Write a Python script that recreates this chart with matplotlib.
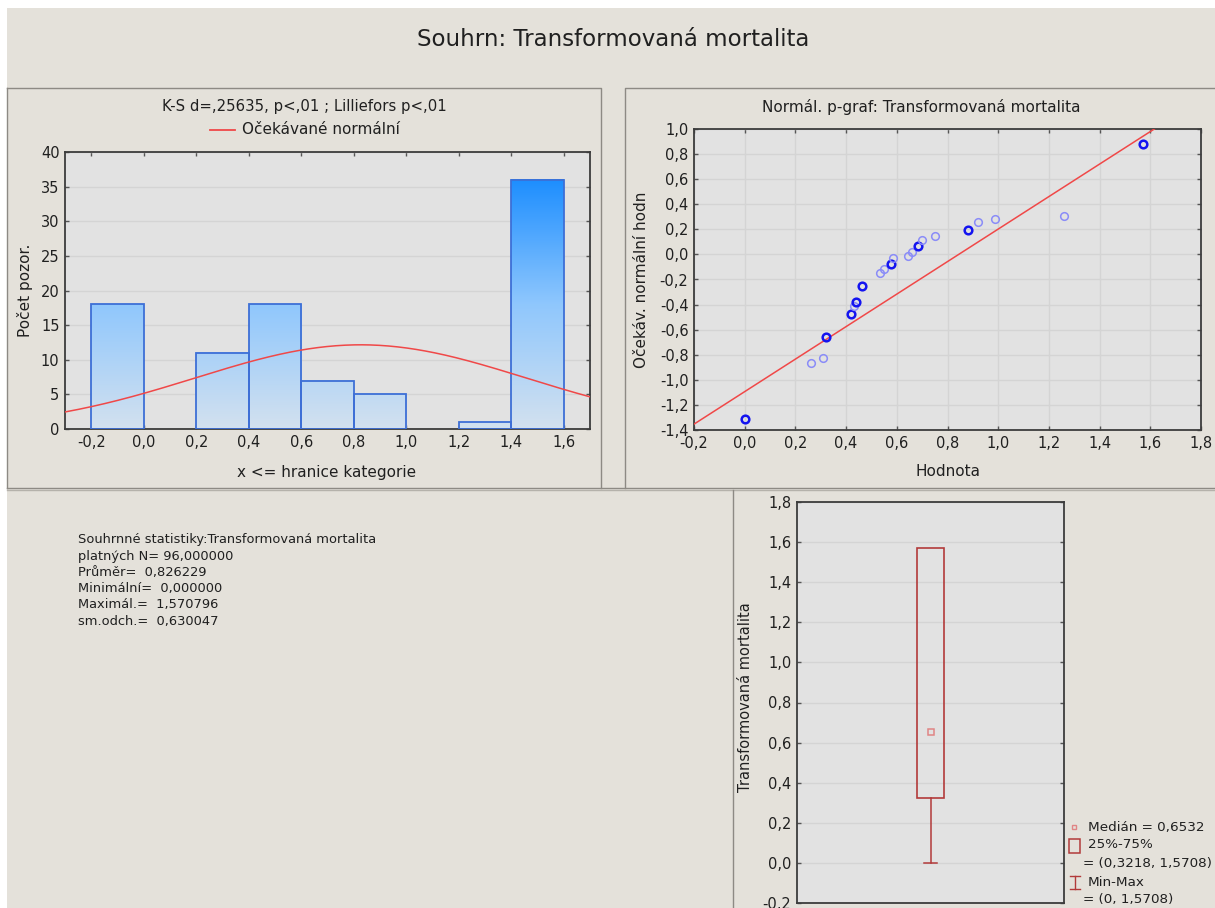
import numpy as np
import matplotlib
matplotlib.use('Agg')
import matplotlib.pyplot as plt
from matplotlib.colors import LinearSegmentedColormap
from matplotlib.patches import Rectangle
from matplotlib.ticker import FuncFormatter, MultipleLocator

plt.rcParams['font.family'] = ['DejaVu Sans']

# ---------------- data ----------------
main_title = "Souhrn: Transformovaná mortalita"
hist_title = "K-S d=,25635, p<,01 ; Lilliefors p<,01"
hist_legend = "Očekávané normální"
hist_xlabel = "x <= hranice kategorie"
hist_ylabel = "Počet pozor."
bin_left_edges = [-0.2, 0.0, 0.2, 0.4, 0.6, 0.8, 1.0, 1.2, 1.4]
bin_counts = [18, 0, 11, 18, 7, 5, 0, 1, 36]
bin_width = 0.2

n_valid = 96
mean_val = 0.826229
min_val = 0.0
max_val = 1.570796
sd_val = 0.630047

pp_title = "Normál. p-graf: Transformovaná mortalita"
pp_xlabel = "Hodnota"
pp_ylabel = "Očekáv. normální hodn"
pp_values = [0.0, 0.261, 0.307, 0.322, 0.420, 0.431, 0.440, 0.463, 0.533, 0.549,
             0.576, 0.586, 0.643, 0.658, 0.682, 0.699, 0.749, 0.882, 0.919, 0.987,
             1.259, 1.571]
pp_expected = [-1.315, -0.867, -0.827, -0.659, -0.477, -0.413, -0.376, -0.251, -0.147, -0.117,
               -0.080, -0.032, -0.013, 0.016, 0.067, 0.117, 0.149, 0.197, 0.256, 0.280,
               0.307, 0.880]
pp_tied = [True, False, False, True, True, False, True, True, False, False,
           True, False, False, False, True, False, False, True, False, False,
           False, True]
pp_line_intercept = -1.094
pp_line_slope = 1.296

box_ylabel = "Transformovaná mortalita"
median_val = 0.6532
q25 = 0.3218
q75 = 1.5708

stats_lines = ["Souhrnné statistiky:Transformovaná mortalita",
               "platných N= 96,000000",
               "Průměr=  0,826229",
               "Minimální=  0,000000",
               "Maximál.=  1,570796",
               "sm.odch.=  0,630047"]

# ---------------- layout helpers ----------------
W, H = 1215, 908
fig = plt.figure(figsize=(W / 100, H / 100), dpi=100)
fig.patch.set_facecolor('white')


def rect(l, t, r, b):
    return [l / W, 1 - b / H, (r - l) / W, (b - t) / H]


BEIGE = '#e4e1da'
AXFACE = '#e2e2e2'
GRID = '#d4d4d4'
SPINE = '#3c3c3c'
TXT = '#202020'
FS = 10.5


def comma_fmt(v, pos):
    s = f"{v:.1f}".replace('.', ',')
    if s == '-0,0':
        s = '0,0'
    return s


def style_axes(ax):
    ax.set_facecolor(AXFACE)
    for sp in ax.spines.values():
        sp.set_color(SPINE)
        sp.set_linewidth(1.3)
    ax.tick_params(direction='in', length=3, width=1, color='#555555',
                   labelsize=FS, labelcolor=TXT, top=True, right=True, pad=4)


# background overlay in pixel coordinates
bg = fig.add_axes([0, 0, 1, 1], zorder=-10)
bg.set_xlim(0, W)
bg.set_ylim(H, 0)
bg.axis('off')
bg.add_patch(Rectangle((7, 8), W - 7, H - 8, facecolor=BEIGE, edgecolor='none'))
line_kw = dict(color='#8d8a84', lw=1.0)
bg.plot([7, 601, 601], [88, 88, 488], **line_kw)
bg.plot([625, 625, 1215], [488, 88, 88], **line_kw)
bg.plot([7, 7], [88, 488], **line_kw)
bg.plot([7, 1215], [488, 488], **line_kw)
bg.plot([7, 1215], [490, 490], color='#b5b2ab', lw=1.0)
bg.plot([733, 733], [490, 908], **line_kw)

bg.text(613, 40, main_title, ha='center', va='center', fontsize=16.5, color=TXT)

# ---------------- histogram ----------------
ax1 = fig.add_axes(rect(65, 152, 590, 429))
style_axes(ax1)
cmap = LinearSegmentedColormap.from_list('bl', ['#d3e1ef', '#8fc7fd', '#1d8eff'])
vmax = max(bin_counts)
for x0, c in zip(bin_left_edges, bin_counts):
    if c <= 0:
        continue
    grad = np.linspace(0, c, 256).reshape(-1, 1)
    ax1.imshow(grad, extent=(x0, x0 + bin_width, 0, c), origin='lower', cmap=cmap,
               vmin=0, vmax=vmax, aspect='auto', zorder=2, interpolation='bilinear')
    ax1.add_patch(Rectangle((x0, 0), bin_width, c, fill=False, edgecolor='#3d6fd6',
                            lw=1.3, zorder=3))
xs = np.linspace(-0.3, 1.7, 400)
ys = n_valid * bin_width * np.exp(-0.5 * ((xs - mean_val) / sd_val) ** 2) / (sd_val * np.sqrt(2 * np.pi))
ax1.plot(xs, ys, color='#f04848', lw=1.1, zorder=4)
ax1.set_xlim(-0.3, 1.7)
ax1.set_ylim(0, 40)
ax1.yaxis.set_major_locator(MultipleLocator(5))
ax1.xaxis.set_major_formatter(FuncFormatter(comma_fmt))
ax1.set_xticks(np.round(np.arange(-0.2, 1.61, 0.2), 1))
ax1.grid(axis='y', color=GRID, lw=1.0, zorder=0)
ax1.set_axisbelow(True)

bg.text(304, 106, hist_title, ha='center', va='center', fontsize=10.7, color=TXT)
bg.plot([210, 235], [130, 130], color='#f04848', lw=1.3)
bg.text(242, 130, hist_legend, ha='left', va='center', fontsize=11, color=TXT)
bg.text(327, 472, hist_xlabel, ha='center', va='center', fontsize=11, color=TXT)
bg.text(25, 290, hist_ylabel, ha='center', va='center', rotation=90, fontsize=11, color=TXT)

# ---------------- normal probability plot ----------------
ax2 = fig.add_axes(rect(694, 129, 1201, 430))
style_axes(ax2)
ax2.set_xlim(-0.2, 1.8)
ax2.set_ylim(-1.4, 1.0)
ax2.xaxis.set_major_locator(MultipleLocator(0.2))
ax2.yaxis.set_major_locator(MultipleLocator(0.2))
ax2.xaxis.set_major_formatter(FuncFormatter(comma_fmt))
ax2.yaxis.set_major_formatter(FuncFormatter(comma_fmt))
ax2.grid(True, color=GRID, lw=1.0, zorder=0)
ax2.set_axisbelow(True)
lx = np.array([-0.2, 1.8])
ax2.plot(lx, pp_line_intercept + pp_line_slope * lx, color='#f04848', lw=1.1, zorder=3)
for x, y, t in zip(pp_values, pp_expected, pp_tied):
    if t:
        ax2.plot(x, y, 'o', ms=5.5, mfc='none', mec='#1414f0', mew=1.8, zorder=4)
    else:
        ax2.plot(x, y, 'o', ms=5.5, mfc='none', mec='#8a8cf8', mew=1.1, zorder=4)

bg.text(921, 107, pp_title, ha='center', va='center', fontsize=11, color=TXT)
bg.text(948, 472, pp_xlabel, ha='center', va='center', fontsize=11, color=TXT)
bg.text(642, 280, pp_ylabel, ha='center', va='center', rotation=90, fontsize=11, color=TXT)

# ---------------- stats text ----------------
for i, s in enumerate(stats_lines):
    bg.text(78, 540 + i * 16.2, s, ha='left', va='center', fontsize=9.4, color=TXT)

# ---------------- box plot ----------------
ax3 = fig.add_axes(rect(797, 502, 1064, 903))
style_axes(ax3)
ax3.tick_params(top=False, bottom=False, labelbottom=False)
ax3.set_xlim(0, 1)
ax3.set_ylim(-0.2, 1.8)
ax3.yaxis.set_major_locator(MultipleLocator(0.2))
ax3.yaxis.set_major_formatter(FuncFormatter(comma_fmt))
ax3.grid(axis='y', color=GRID, lw=1.0, zorder=0)
ax3.set_axisbelow(True)
BOXC = '#b23a3a'
ax3.add_patch(Rectangle((0.45, q25), 0.10, q75 - q25, fill=False, edgecolor=BOXC, lw=1.2, zorder=3))
ax3.plot([0.5, 0.5], [min_val, q25], color=BOXC, lw=1.1, zorder=3)
ax3.plot([0.476, 0.524], [min_val, min_val], color=BOXC, lw=1.1, zorder=3)
ax3.plot([0.5], [median_val], 's', ms=4, mfc='none', mec='#e08585', mew=1.1, zorder=4)

bg.text(745, 697, box_ylabel, ha='center', va='center', rotation=90, fontsize=10.5, color=TXT)

# legend
LFS = 9.7
bg.plot([1074], [827], 's', ms=3.5, mfc='none', mec='#e08585', mew=1.0)
bg.text(1088, 827, "Medián = " + f"{median_val:.4f}".replace('.', ','), ha='left', va='center',
        fontsize=LFS, color=TXT)
bg.add_patch(Rectangle((1069, 839), 11, 14, fill=False, edgecolor=BOXC, lw=1.1))
bg.text(1088, 845, "25%-75%", ha='left', va='center', fontsize=LFS, color=TXT)
bg.text(1083, 863, "= (" + f"{q25:.4f}".replace('.', ',') + ", " + f"{q75:.4f}".replace('.', ',') + ")",
        ha='left', va='center', fontsize=LFS, color=TXT)
bg.plot([1075, 1075], [876, 889], color=BOXC, lw=1.0)
bg.plot([1070, 1080], [876, 876], color=BOXC, lw=1.0)
bg.plot([1070, 1080], [889, 889], color=BOXC, lw=1.0)
bg.text(1088, 882, "Min-Max", ha='left', va='center', fontsize=LFS, color=TXT)
bg.text(1083, 899, "= (" + f"{min_val:g}" + ", " + f"{max_val:.4f}".replace('.', ',') + ")",
        ha='left', va='center', fontsize=LFS, color=TXT)

fig.savefig('out.png', dpi=100)
